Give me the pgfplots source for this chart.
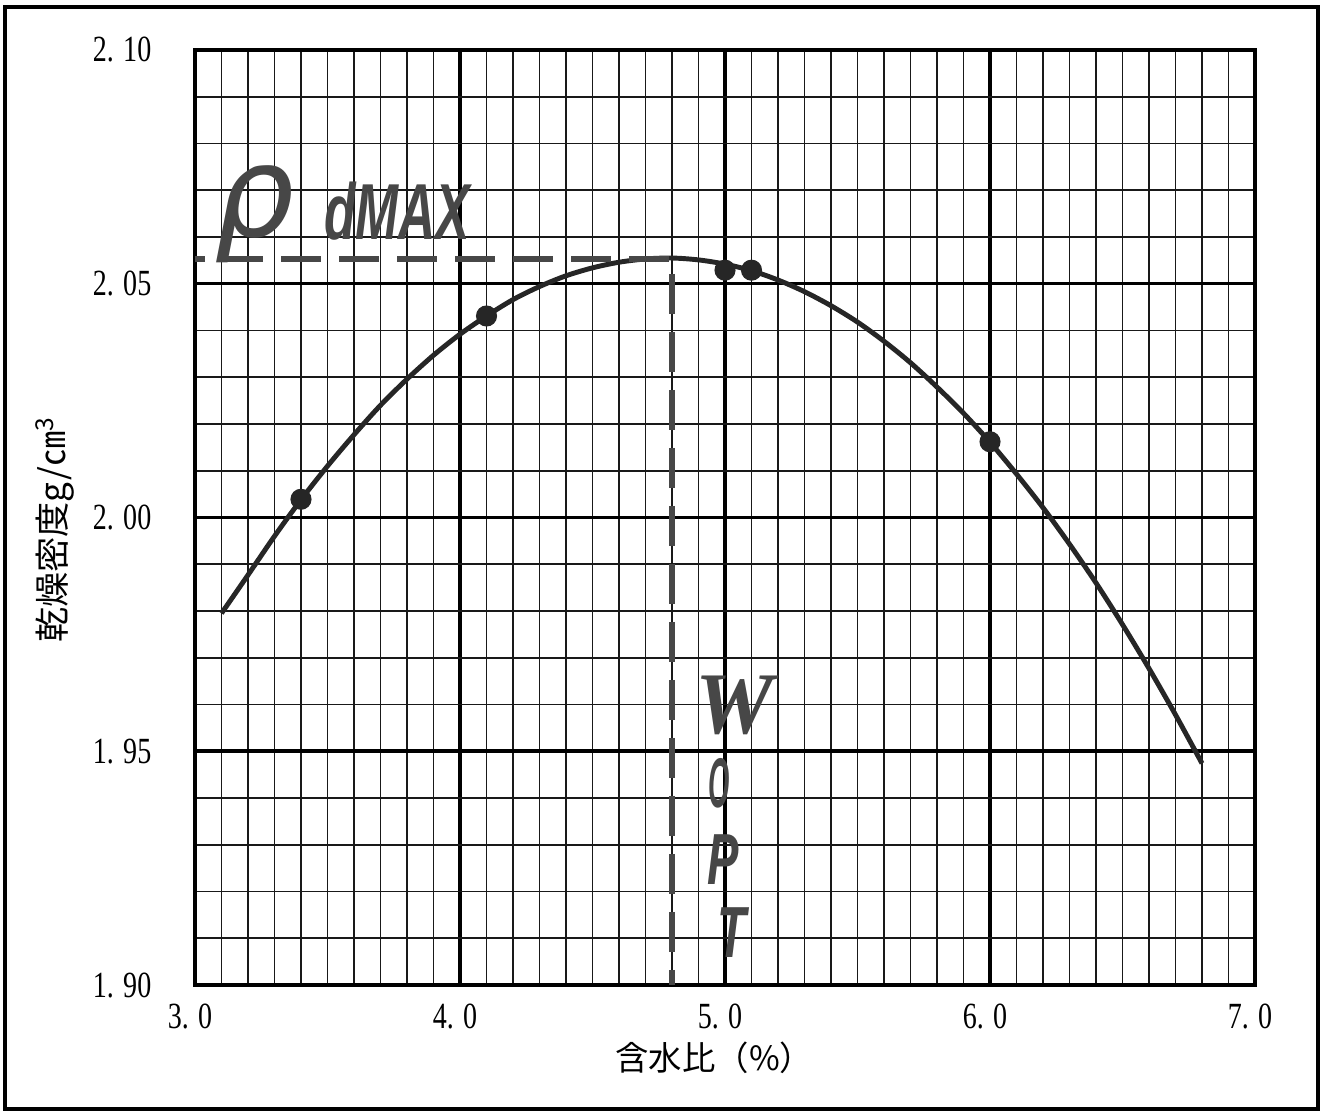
\documentclass[border=0pt]{standalone}
\usepackage{fontspec}
\usepackage{pgfplots}
\pgfplotsset{compat=1.18}
\setmainfont{Liberation Serif}
\newfontfamily\cjk{Noto Sans CJK JP}
\newfontfamily\tickfont[FakeStretch=0.76]{Liberation Serif}
\newfontfamily\labfont[FakeStretch=0.65]{Liberation Sans}
\newfontfamily\wfont{Liberation Serif}
\newfontfamily\rhofont{DejaVu Sans}
\definecolor{ink}{HTML}{262626}
\definecolor{txt}{HTML}{474747}

\pgfplotstableread{
x y
3.1 1.9795
3.2 1.9877
3.3 1.9960
3.4 2.0038
3.5 2.0110
3.6 2.0177
3.7 2.0240
3.8 2.0296
3.9 2.0347
4.0 2.0392
4.1 2.0431
4.2 2.0466
4.3 2.0494
4.4 2.0517
4.5 2.0534
4.6 2.0546
4.7 2.0553
4.8 2.0555
4.9 2.0551
5.0 2.0542
5.1 2.0528
5.2 2.0508
5.3 2.0483
5.4 2.0453
5.5 2.0418
5.6 2.0377
5.7 2.0331
5.8 2.0279
5.9 2.0223
6.0 2.0161
6.1 2.0093
6.2 2.0021
6.3 1.9943
6.4 1.9860
6.5 1.9771
6.6 1.9677
6.7 1.9578
6.8 1.9474
}\curvedata

\pgfplotstableread{
x y
3.4 2.0039
4.1 2.0431
5.0 2.0529
5.1 2.0529
6.0 2.0162
}\pointdata

\begin{document}
\begin{tikzpicture}
\useasboundingbox (-1.95cm,-1.27cm) rectangle (11.28cm,9.85cm);
\draw[line width=1.1pt] (-1.90cm,-1.24cm) rectangle (11.23cm,9.78cm);
\begin{axis}[
  at={(0,0)}, anchor=south west,
  scale only axis, width=10.6cm, height=9.35cm,
  xmin=3, xmax=7, ymin=1.90, ymax=2.10,
  xtick={3,4,5,6,7}, ytick={1.90,1.95,2.00,2.05,2.10},
  xticklabels={3. 0,4. 0,5. 0,6. 0,7. 0},
  yticklabels={1. 90,1. 95,2. 00,2. 05,2. 10},
  minor x tick num=9, minor y tick num=4,
  major tick length=0pt, minor tick length=0pt,
  grid=both,
  major grid style={line width=1pt, black},
  minor grid style={line width=0.55pt, black!90},
  axis line style={line width=1pt},
  ticklabel style={font=\tickfont\fontsize{10.5}{12}\selectfont, inner sep=0pt},
  xticklabel style={anchor=north, yshift=-1.8mm, xshift=-0.5mm},
  yticklabel style={anchor=east, xshift=-4.3mm},
  xlabel={\cjk 含水比（\%）},
  ylabel={\cjk 乾燥密度g/㎝\textsuperscript{3}},
  xlabel style={at={(axis description cs:0.49,-0.078)}, anchor=center, font=\fontsize{9.5}{11}\selectfont},
  ylabel style={at={(axis description cs:-0.132,0.487)}, anchor=center, font=\fontsize{10}{12}\selectfont},
  clip=false,
]
\addplot[ink, line width=1.4pt, smooth] table[x=x,y=y] {\curvedata};
\addplot[only marks, mark=*, mark size=2.8pt, ink] table[x=x,y=y] {\pointdata};
\addplot[txt, line width=1.6pt, dash pattern=on 4mm off 1.8mm, dash phase=3mm] coordinates {(3.0,2.0553) (4.8,2.0553) (4.8,1.90)};

\node[anchor=base, text=txt, font=\rhofont\itshape\fontsize{36}{38}\selectfont] at (axis cs:3.225,2.0600) {ρ};
\node[anchor=base west, text=txt, font=\labfont\bfseries\itshape\fontsize{22.6}{24}\selectfont] at (axis cs:3.44,2.0594) {dMAX};
\node[anchor=base, text=txt, font=\wfont\bfseries\itshape\fontsize{25}{27}\selectfont] at (axis cs:5.035,1.9539) {W};
\node[anchor=base, text=txt, xscale=0.6, font=\labfont\bfseries\itshape\fontsize{20}{22}\selectfont] at (axis cs:4.977,1.9379) {O};
\node[anchor=base, text=txt, font=\labfont\bfseries\itshape\fontsize{20.6}{22}\selectfont] at (axis cs:4.995,1.9214) {P};
\node[anchor=base, text=txt, font=\labfont\bfseries\itshape\fontsize{20.6}{22}\selectfont] at (axis cs:5.025,1.9058) {T};
\end{axis}
\end{tikzpicture}
\end{document}
